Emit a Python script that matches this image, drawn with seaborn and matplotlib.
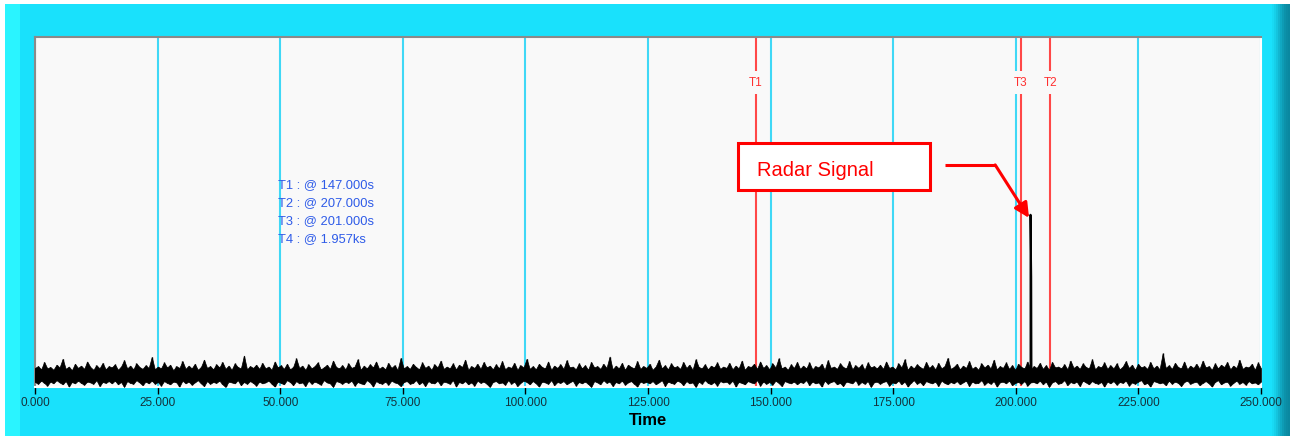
import numpy as np
import pandas as pd
import matplotlib
matplotlib.use("Agg")
import matplotlib.pyplot as plt
import seaborn as sns
from matplotlib.patches import Rectangle

# ---- data (noise band envelope, values x 1/1000) ----
noise_upper_milli = [
    48,52,45,61,47,50,44,55,49,68,46,51,43,57,48,53,46,62,50,44,54,47,59,45,52,
    49,56,44,51,65,47,53,45,58,50,46,54,48,72,45,51,47,60,49,55,43,52,48,63,46,
    53,47,57,44,50,66,48,52,45,56,49,61,46,53,44,58,50,47,75,45,52,48,55,46,59,
    47,51,44,62,49,54,46,57,45,50,69,48,53,44,56,47,52,60,45,49,55,46,64,50,47,
    54,45,58,48,51,67,44,53,47,56,49,62,46,51,45,59,48,54,44,70,47,52,46,57,50,
    45,60,48,53,44,56,49,64,46,51,47,58,45,55,50,66,44,52,48,57,46,61,49,53,45,
    56,47,63,45,51,48,59,44,54,49,68,46,52,45,57,50,47,62,44,53,48,56,46,65,49,
    51,45,58,47,54,44,61,49,52,46,57,48,73,45,53,47,59,44,55,50,47,63,46,52,48,
    57,44,51,66,47,54,45,58,49,52,46,61,48,55,44,67,50,47,56,45,53,49,60,46,51,
    48,59,45,53,47,64,44,52,50,57,46,62,48,54,45,58,49,69,47,51,44,56,48,61,46,
    53,47,60,45,52,49,57,44,65,48,51,46,58,50,47,63,45,54,48,56,44,60,49,52,47,
    55,46,62,48,51,45,58,49,67,44,53,47,56,50,46,61,48,54,45,59,47,52,70,46,50,
    57,45,53,48,63,46,51,44,58,49,55,47,66,45,52,48,60,46,54,44,57,50,47,62,45,
    52,48,59,46,54,44,61,49,51,47,56,45,64,48,53,46,58,50,47,67,45,52,49,60,46,
    54,47,58,45,51,63,48,55,44,57,49,52,46,61,47,53,45,80,48,54,46,59,50,47,62,
    45,53,48,57,46,64,49,52,44,58,47,55,50,61,45,53,48,66,46,51,49,57,44,60,47,
]
noise_lower_milli = [
    17,13,20,15,9,18,14,21,16,12,19,7,17,14,20,15,11,18,16,13,21,8,17,15,19,
    14,20,12,17,6,19,15,13,21,16,10,18,14,20,13,17,9,19,15,12,18,16,7,20,14,
    18,11,16,21,14,8,19,13,17,15,20,12,6,18,16,14,21,10,17,13,19,15,9,18,14,
    16,20,13,7,18,15,12,21,17,10,19,14,16,8,20,13,18,15,11,21,16,14,6,19,17,
    13,18,15,20,9,17,14,12,21,16,7,19,15,13,18,11,20,16,14,8,17,19,13,15,21,
    12,17,8,19,15,14,20,10,18,16,13,21,7,17,14,19,12,16,9,20,15,18,13,6,17,
    19,14,16,11,21,13,18,8,15,20,17,12,19,14,7,18,16,13,21,10,17,15,19,12,16,
    20,9,17,14,18,13,6,19,16,12,21,15,18,8,17,14,20,11,16,19,13,7,18,15,17,
    14,19,12,16,21,8,18,15,13,20,17,10,19,14,16,6,18,13,21,15,12,17,9,19,16,
    18,13,20,7,17,15,12,19,16,14,21,9,18,13,17,11,20,15,8,19,16,14,18,12,17,
    15,21,10,18,14,16,7,20,13,17,19,12,15,8,18,16,14,21,11,17,13,19,6,16,18,
    13,17,19,9,16,14,20,12,18,7,15,21,13,17,10,19,16,14,18,8,20,15,12,17,14,
    19,12,16,20,8,18,14,15,21,11,17,13,19,7,16,18,14,20,10,15,17,13,19,9,16,
    17,14,20,12,18,6,16,19,13,15,21,10,17,14,18,8,20,16,12,19,15,13,17,7,18,
    14,19,11,17,15,20,9,16,13,18,21,12,15,7,19,17,14,16,10,20,13,18,15,8,17,
    20,13,16,18,10,15,19,14,7,17,21,12,16,18,9,15,20,13,17,11,19,14,16,12,18,
]
spike_time = [203.0, 203.0, 203.15, 203.2]
spike_value = [0.035, 0.385, 0.248, 0.035]
cursor_names = ["T1", "T3", "T2"]
cursor_times = [147.0, 201.0, 207.0]
readout_lines = ["T1 : @ 147.000s", "T2 : @ 207.000s", "T3 : @ 201.000s", "T4 : @ 1.957ks"]
tick_values = [0, 25, 50, 75, 100, 125, 150, 175, 200, 225, 250]
tick_labels = ["0.000", "25.000", "50.000", "75.000", "100.000", "125.000",
               "150.000", "175.000", "200.000", "225.000", "250.000"]
annotation_text = "Radar Signal"
x_label = "Time"

# ---- styling ----
sns.set_style("white")
plt.rcParams['font.family'] = ['Liberation Sans', 'DejaVu Sans']

W, H = 1290, 436
CYAN = "#19E1FC"
fig = plt.figure(figsize=(W / 100, H / 100), dpi=100, facecolor=CYAN)

def fig_rect(x0, y0_top, w, h, color):
    fig.patches.append(Rectangle((x0 / W, 1 - (y0_top + h) / H), w / W, h / H,
                                 transform=fig.transFigure, facecolor=color,
                                 edgecolor='none', zorder=-10))

fig_rect(0, 0, W, 4, "white")
fig_rect(0, 0, 5, H, "white")
fig_rect(5, 4, 15, H - 4, "#2AF4FF")
grad = ["#18DAF4", "#16D0EA", "#14C4DE", "#12B6D0", "#10A8C2", "#0E9CB5", "#0C92AA", "#0B8CA4", "#0A88A0"]
for i, c in enumerate(grad):
    fig_rect(1272 + 2 * i, 4, 2, H - 4, c)

ax = fig.add_axes([35 / W, 49 / H, 1226 / W, 350 / H])
ax.set_facecolor("#F9F9F9")

t = np.linspace(0, 250, len(noise_upper_milli))
upper = np.array(noise_upper_milli) / 1000.0
lower = np.array(noise_lower_milli) / 1000.0
ax.fill_between(t, lower, upper, color="black", lw=0.5, edgecolor="black", zorder=3)
ax.vlines(t, lower, upper, color="black", lw=1.0, zorder=3)
sdf = pd.DataFrame({"Time": spike_time, "Value": spike_value})
sns.lineplot(data=sdf, x="Time", y="Value", color="black", lw=1.4, ax=ax,
             estimator=None, sort=False, zorder=3)

ax.set_xlim(0, 250)
ax.set_ylim(0.006, 0.776)
ax.set_xticks(tick_values)
ax.set_xticklabels(tick_labels, fontsize=8.5, color="#14323C")
ax.set_yticks([])
ax.set_ylabel("")
ax.set_xlabel(x_label, fontsize=12, fontweight="bold", color="black", labelpad=3)
ax.tick_params(axis="x", direction="out", length=5, width=1, color="black", pad=2, bottom=True)
ax.xaxis.grid(True, color="#40D8F6", lw=1.5)
ax.set_axisbelow(True)
for s in ["top", "left"]:
    ax.spines[s].set_color("#8A8A8A")
    ax.spines[s].set_linewidth(1.5)
for s in ["bottom", "right"]:
    ax.spines[s].set_color("white")
    ax.spines[s].set_linewidth(1.5)

# cursors
for name, ct in zip(cursor_names, cursor_times):
    ax.axvline(ct, color="#FF4848", lw=1.5, zorder=2)
    ax.text(ct, 0.675, name, color="#FF3030", fontsize=8.5, ha="center", va="center",
            zorder=4, bbox=dict(facecolor="#F9F9F9", edgecolor="none", pad=4))

# cursor readout
for i, line in enumerate(readout_lines):
    ax.text(49.5, 0.4506 - i * 0.0396, line, color="#2E5BE8", fontsize=9.3,
            ha="left", va="center", zorder=4)

# annotation box + arrow
ax.add_patch(Rectangle((143.4, 0.4396), 39.1, 0.1034, facecolor="white",
                       edgecolor="#FF0000", lw=2.2, zorder=5))
ax.text(147.2, 0.4814, annotation_text, color="#FF0000", fontsize=14.5,
        ha="left", va="center", zorder=6)
ax.plot([185.6, 195.8], [0.4946, 0.4946], color="#FF0000", lw=2.2, zorder=5,
        solid_capstyle="butt")
ax.annotate("", xy=(202.7, 0.378), xytext=(195.8, 0.4946),
            arrowprops=dict(arrowstyle="-|>", color="#FF0000", lw=2.2,
                            mutation_scale=22, shrinkA=0, shrinkB=0), zorder=5)

fig.savefig("out.png", dpi=100, facecolor=fig.get_facecolor())
